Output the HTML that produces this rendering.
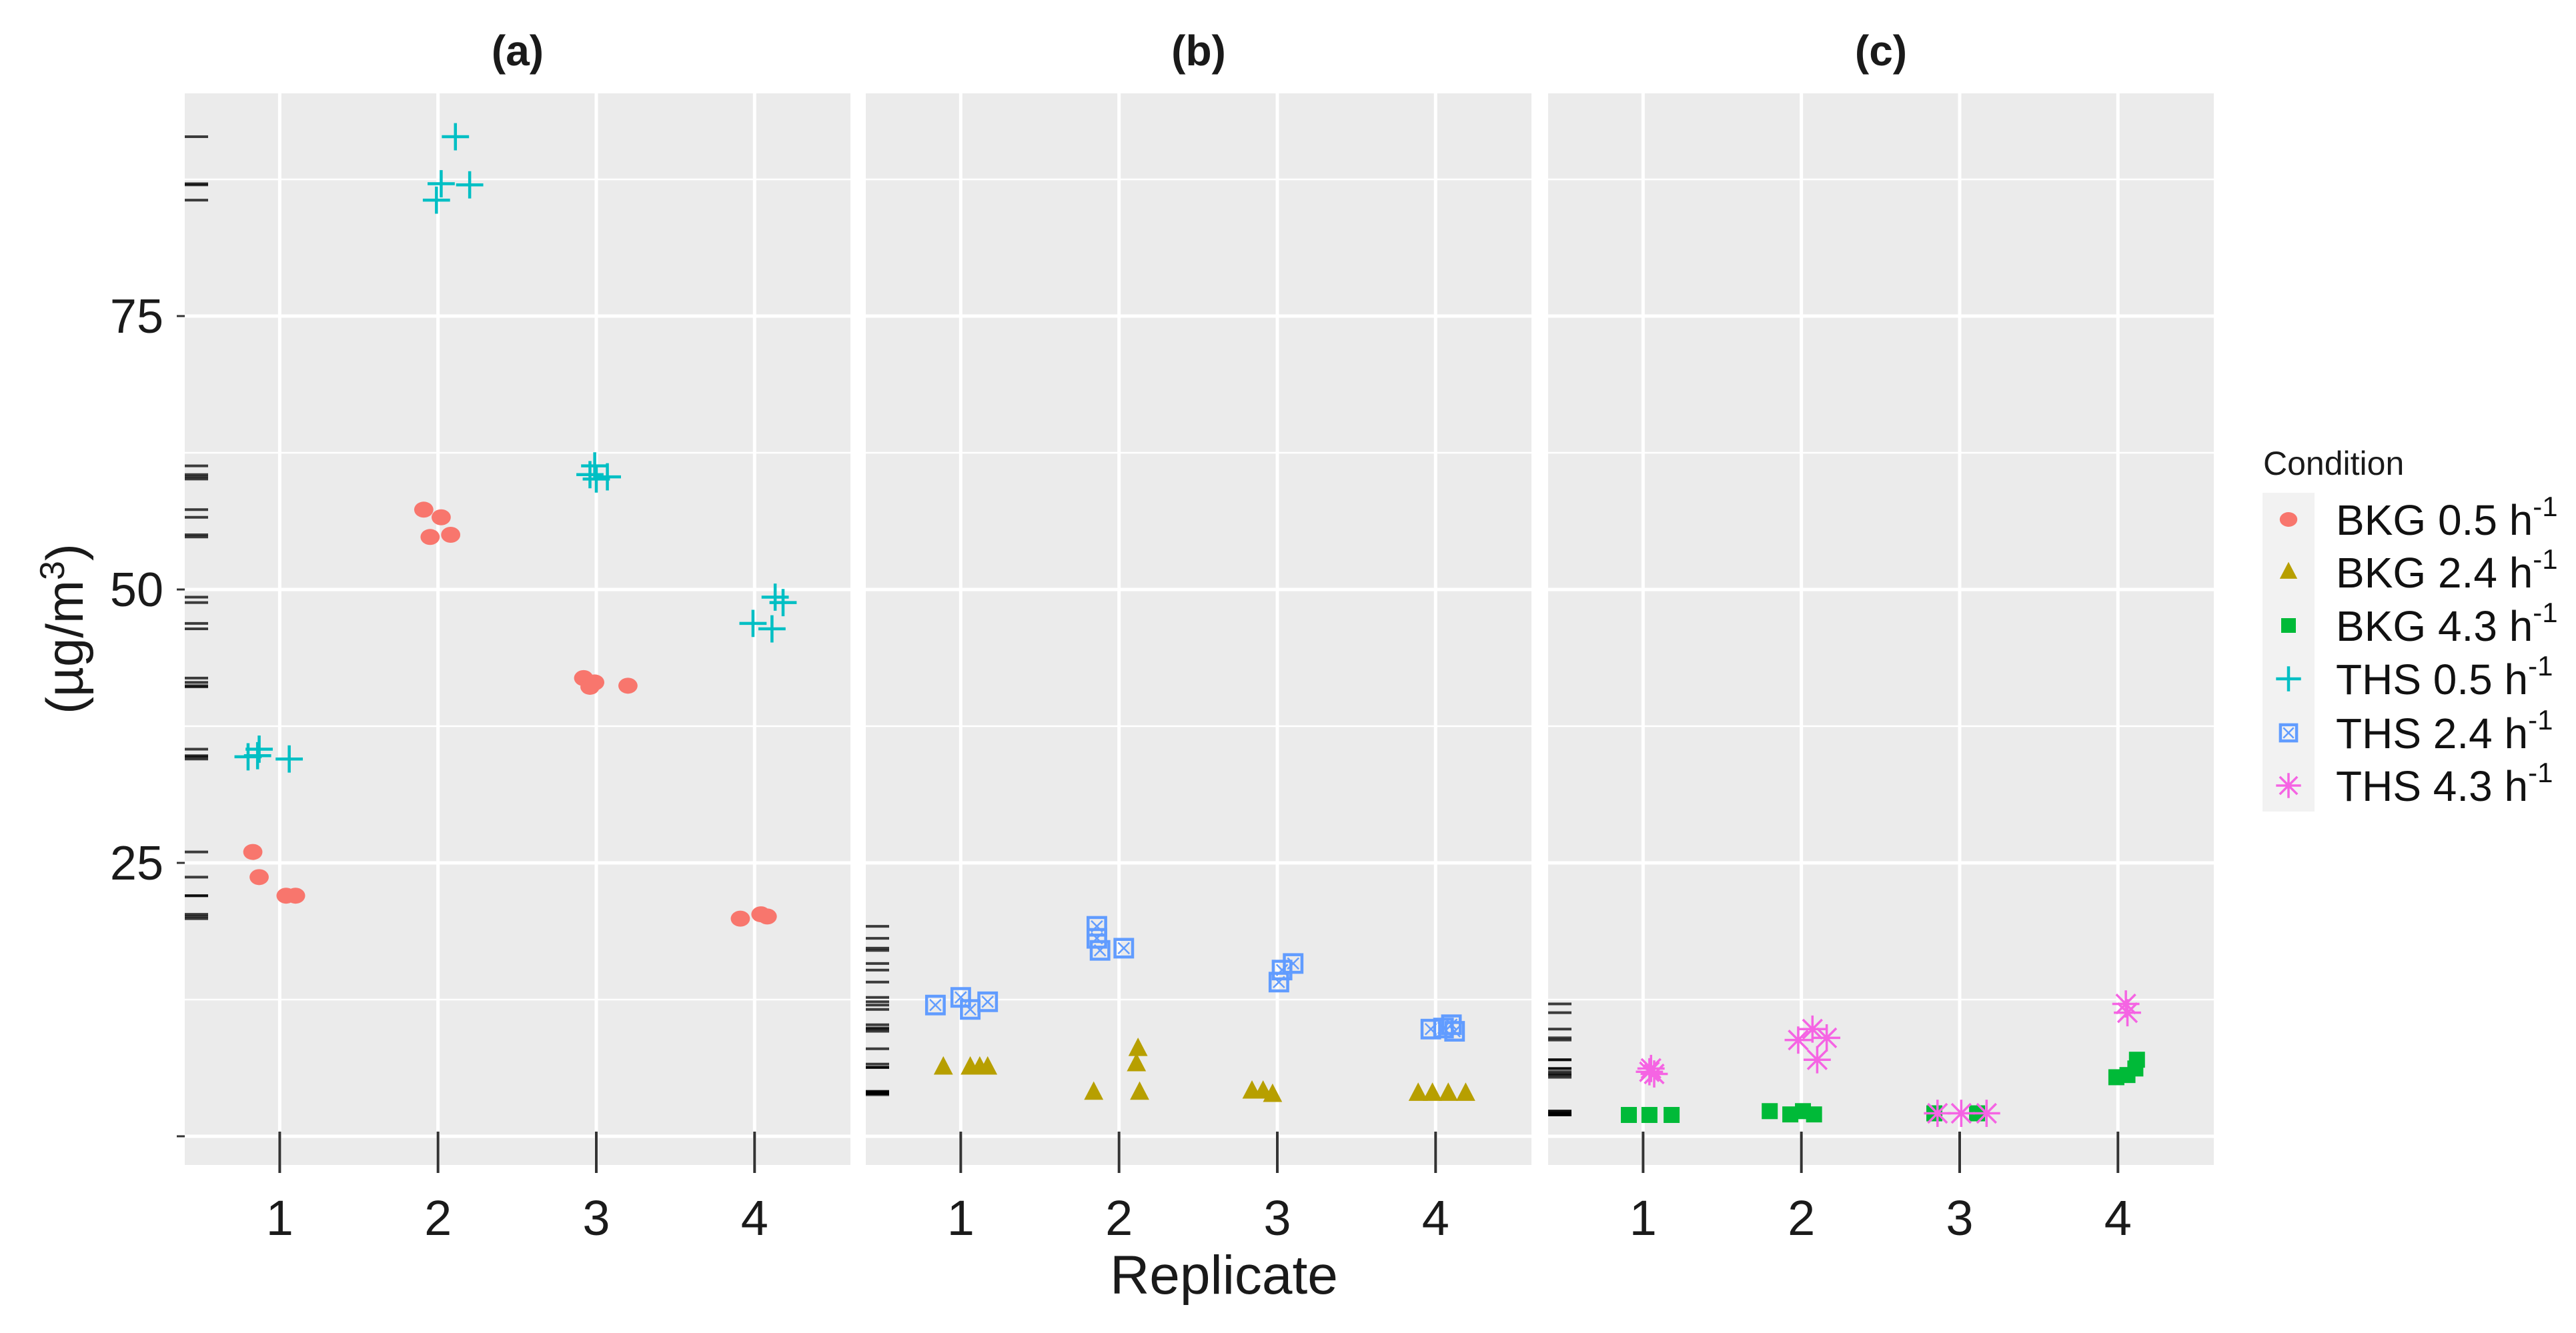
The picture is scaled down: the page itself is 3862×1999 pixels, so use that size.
<!DOCTYPE html>
<html><head><meta charset="utf-8"><style>
html,body{margin:0;padding:0;background:#fff}
svg{display:block;font-family:"Liberation Sans",sans-serif}
</style></head><body>
<svg id="chart" width="3862" height="1999" viewBox="0 0 3862 1999" xmlns="http://www.w3.org/2000/svg">
<g id="panels"></g>
<g id="legend"></g>
</svg>
<script>
const NS="http://www.w3.org/2000/svg";
// ---- data ----
const panelTitles=["(a)","(b)","(c)"];
const xTickLabels=["1","2","3","4"];
const yTickValues=[25,50,75];
const seriesNames=["BKG 0.5","BKG 2.4","BKG 4.3","THS 0.5","THS 2.4","THS 4.3"];
const bkg05Rep=[0.83,0.87,1.04,1.10,1.91,2.02,1.95,2.08,2.92,2.96,2.99,3.20,3.91,4.04,4.08];
const bkg05Val=[26.0,23.7,22.0,22.0,57.3,56.6,54.8,55.0,41.9,41.1,41.5,41.2,19.9,20.3,20.1];
const ths05Rep=[0.80,0.86,0.87,1.06,2.11,2.02,1.99,2.20,2.99,2.96,3.00,3.07,3.99,4.11,4.13,4.18];
const ths05Val=[34.7,34.8,35.4,34.5,91.4,87.1,85.6,87.0,61.3,60.5,60.1,60.3,46.9,46.4,49.3,48.8];
const ths24Rep=[0.84,1.00,1.06,1.17,1.86,1.86,1.88,2.03,3.01,3.03,3.10,3.97,4.05,4.10,4.12];
const ths24Val=[12.0,12.7,11.6,12.3,19.2,18.1,17.0,17.2,14.1,15.2,15.8,9.8,9.9,10.2,9.6];
const bkg24Rep=[0.89,1.06,1.12,1.17,1.84,2.12,2.11,2.13,2.84,2.91,2.97,3.89,3.98,4.08,4.19];
const bkg24Val=[6.3,6.3,6.3,6.3,4.0,8.0,6.6,4.0,4.1,4.1,3.8,3.9,3.9,3.9,3.9];
const bkg43Rep=[0.91,1.04,1.18,1.80,1.93,2.01,2.08,2.84,3.11,3.99,4.06,4.12,4.11];
const bkg43Val=[1.95,1.95,1.95,2.3,2.0,2.3,2.0,2.1,2.1,5.4,5.6,7.0,6.2];
const ths43Rep=[1.05,1.07,1.04,1.98,2.07,2.16,2.10,2.86,3.01,3.17,4.05,4.06];
const ths43Val=[6.2,5.7,5.9,8.8,9.8,9.0,7.0,2.1,2.1,2.1,12.1,11.3];

// ---- layout ----
const panelLeft=[277,1298,2321], panelW=998, panelTop=140, panelBottom=1747;
function yS(v){return 1704-16.4*v;}
function xS(p,r){return panelLeft[p]+(r-0.4)*237.3;}
const colors={"BKG 0.5":"#F8766D","BKG 2.4":"#B79F00","BKG 4.3":"#00BA38","THS 0.5":"#00BFC4","THS 2.4":"#619CFF","THS 4.3":"#F564E3"};
const panelSeries=[
 [["BKG 0.5",bkg05Rep,bkg05Val],["THS 0.5",ths05Rep,ths05Val]],
 [["BKG 2.4",bkg24Rep,bkg24Val],["THS 2.4",ths24Rep,ths24Val]],
 [["BKG 4.3",bkg43Rep,bkg43Val],["THS 4.3",ths43Rep,ths43Val]]
];
function el(tag,attrs,parent){const e=document.createElementNS(NS,tag);for(const k in attrs)e.setAttribute(k,attrs[k]);parent.appendChild(e);return e;}
function marker(name,x,y,g,s){
 s=s||1.2;
 const c=colors[name];let m;
 if(name==="BKG 0.5"){m=el("ellipse",{cx:x,cy:y,rx:12*s,ry:10*s,fill:c},g);}
 else if(name==="BKG 2.4"){m=el("polygon",{points:`${x},${y-14*s} ${x-12*s},${y+9*s} ${x+12*s},${y+9*s}`,fill:c},g);}
 else if(name==="BKG 4.3"){m=el("rect",{x:x-10*s,y:y-10*s,width:20*s,height:20*s,fill:c},g);}
 else if(name==="THS 0.5"){m=el("path",{d:`M${x-17*s},${y}H${x+17*s}M${x},${y-17*s}V${y+17*s}`,stroke:c,"stroke-width":4.5,fill:"none"},g);}
 else if(name==="THS 2.4"){m=el("g",{},g);el("rect",{x:x-11*s,y:y-11*s,width:22*s,height:22*s,fill:"none",stroke:c,"stroke-width":4.5},m);el("path",{d:`M${x-7*s},${y-7*s}L${x+7*s},${y+7*s}M${x+7*s},${y-7*s}L${x-7*s},${y+7*s}`,stroke:c,"stroke-width":2.5},m);}
 else {m=el("path",{d:`M${x-17*s},${y}H${x+17*s}M${x},${y-17*s}V${y+17*s}M${x-12*s},${y-12*s}L${x+12*s},${y+12*s}M${x+12*s},${y-12*s}L${x-12*s},${y+12*s}`,stroke:c,"stroke-width":3.5,fill:"none"},g);}
 return m;
}
const root=document.getElementById("panels");
for(let p=0;p<3;p++){
 const g=el("g",{},root);
 
 
 const L=panelLeft[p];
 const bg=el("rect",{x:L,y:panelTop,width:panelW,height:panelBottom-panelTop,fill:"#EBEBEB"},g);
 
 
 [12.5,37.5,62.5,87.5].forEach(v=>el("line",{x1:L,x2:L+panelW,y1:yS(v),y2:yS(v),stroke:"#fff","stroke-width":2.5},g));
 [0,25,50,75].forEach(v=>el("line",{x1:L,x2:L+panelW,y1:yS(v),y2:yS(v),stroke:"#fff","stroke-width":5},g));
 xTickLabels.forEach((t,i)=>{
  const x=xS(p,i+1);
  el("line",{x1:x,x2:x,y1:panelTop,y2:panelBottom,stroke:"#fff","stroke-width":5},g);
  el("line",{x1:x,x2:x,y1:1697,y2:1759,stroke:"#333","stroke-width":4},g);
  const tl=el("text",{x:x,y:1852,"font-size":74,"text-anchor":"middle",fill:"#1a1a1a"},g);tl.textContent=t;
  
  
 });
 const tt=el("text",{x:L+panelW/2,y:98,"font-size":64,"font-weight":"bold","text-anchor":"middle",fill:"#1a1a1a"},g);tt.textContent=panelTitles[p];
 
 
 panelSeries[p].forEach(([name,reps,vals])=>{
  const sg=el("g",{},g);
  
  
  vals.forEach((v,i)=>{
   el("line",{x1:L,x2:L+35,y1:yS(v),y2:yS(v),stroke:"#000","stroke-width":4,"stroke-opacity":0.75},sg);
   const m=marker(name,xS(p,reps[i]),yS(v),sg);
   
   
  });
 });
}
// y axis
const ya=el("g",{},root);


[0,25,50,75].forEach(v=>el("line",{x1:265,x2:277,y1:yS(v),y2:yS(v),stroke:"#333","stroke-width":3},ya));
yTickValues.forEach(v=>{const t=el("text",{x:245,y:yS(v)+25,"font-size":72,"text-anchor":"end",fill:"#1a1a1a"},ya);t.textContent=String(v);
 
 });
const yt=el("text",{x:0,y:0,"font-size":78,"text-anchor":"middle",fill:"#1a1a1a",transform:"translate(124,943) rotate(-90)"},ya);
yt.innerHTML='(µg/m<tspan dy="-28" font-size="52">3</tspan><tspan dy="28">)</tspan>';


const xt=el("text",{x:1835,y:1940,"font-size":82,"text-anchor":"middle",fill:"#1a1a1a"},root);xt.textContent="Replicate";


// legend
const lg=document.getElementById("legend");
const lt=el("text",{x:3393,y:712,"font-size":50,fill:"#1a1a1a"},lg);lt.textContent="Condition";


el("rect",{x:3392,y:739,width:78,height:478,fill:"#F2F2F2"},lg);
const legY=[779,858,938,1018,1099,1178];
seriesNames.forEach((n,i)=>{
 const eg=el("g",{},lg);
 
 
 marker(n,3431,legY[i],eg,1.1);
 const t=el("text",{x:3502,y:legY[i]+23,"font-size":64,fill:"#111"},eg);
 t.innerHTML=n+' h<tspan dy="-28" font-size="42">-1</tspan>';
});
</script>
</body></html>
